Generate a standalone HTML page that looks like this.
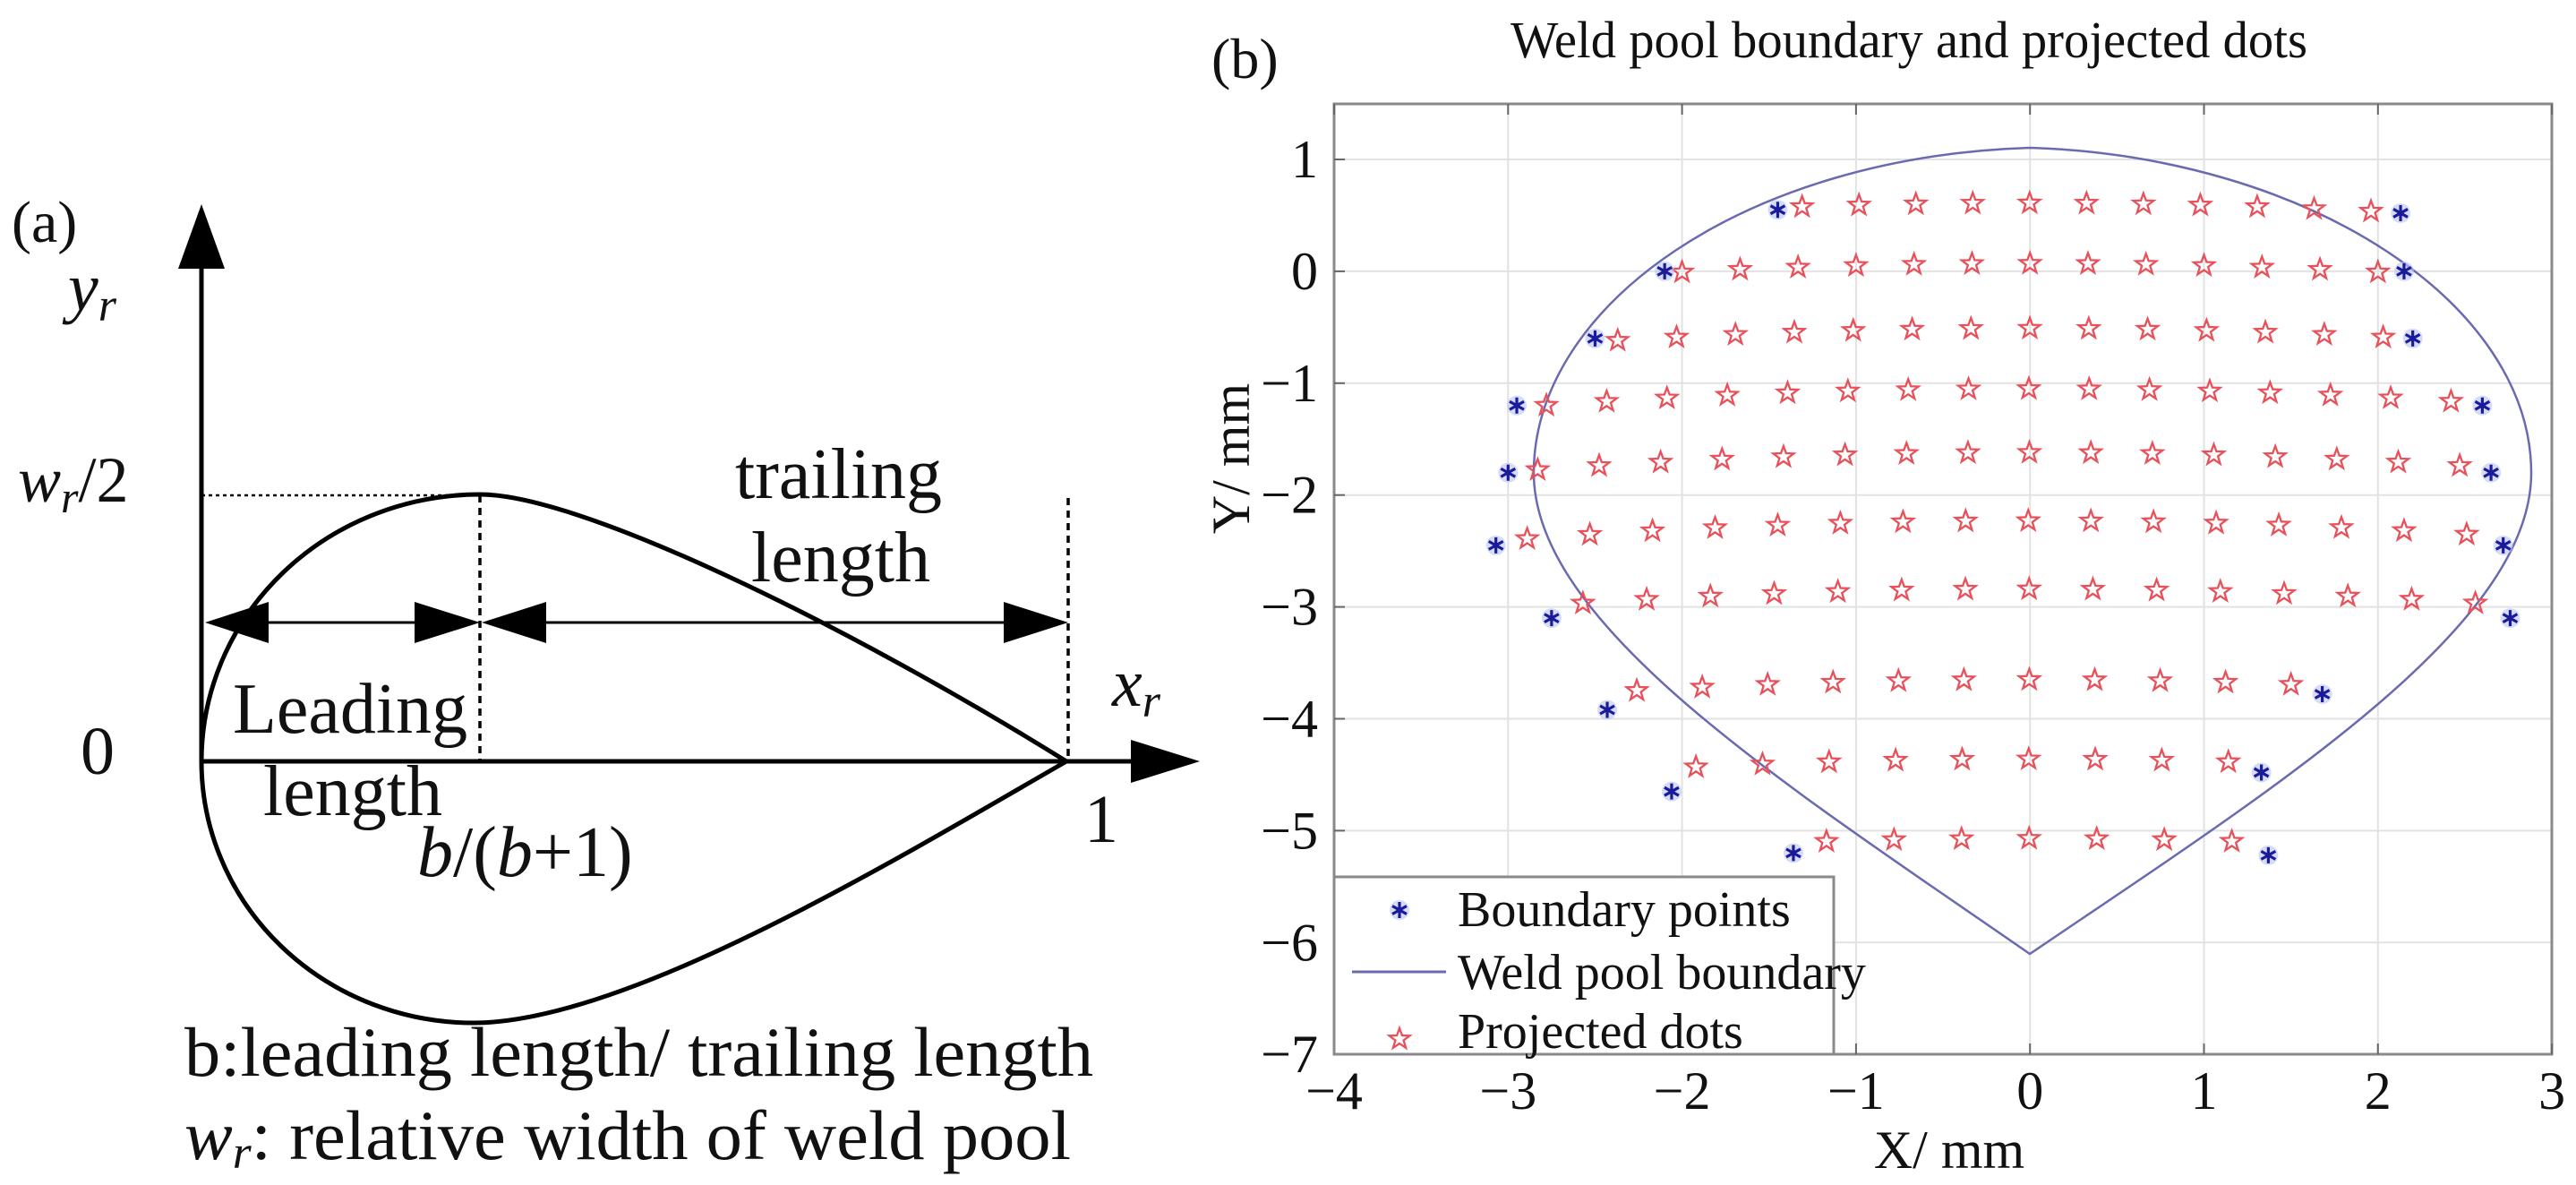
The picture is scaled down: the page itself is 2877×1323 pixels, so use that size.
<!DOCTYPE html>
<html><head><meta charset="utf-8"><style>
html,body{margin:0;padding:0;background:#fff;}
svg{display:block;font-family:"Liberation Serif","Times New Roman",serif;}
svg text{font-family:"Liberation Serif","Times New Roman",serif;fill:#111;}
</style></head><body>
<svg id="s" width="2877" height="1323" viewBox="0 0 2877 1323" xmlns="http://www.w3.org/2000/svg" font-family="Liberation Serif, serif">
<defs>
<symbol id="st" viewBox="-14 -14 28 28" overflow="visible">
<polygon points="0,-12 2.9,-4 11.5,-3.7 4.6,1.5 7.1,9.8 0,5 -7.1,9.8 -4.6,1.5 -11.5,-3.7 -2.9,-4" fill="none" stroke="#e8505a" stroke-width="2.3"/>
</symbol>
<symbol id="bp" viewBox="-14 -14 28 28" overflow="visible">
<circle r="11" fill="#b8c4f0" opacity="0.6"/>
<path d="M0,-9V9M-8,-4.5L8,4.5M-8,4.5L8,-4.5" stroke="#1a1a9a" stroke-width="3.2"/>
</symbol>
</defs>
<!-- Panel (a) -->
<text x="13" y="270" font-size="66">(a)</text>
<text x="76" y="346" font-size="76" font-style="italic">y<tspan font-size="52" dy="12">r</tspan></text>
<text x="20" y="560" font-size="72" font-style="italic">w<tspan font-size="50" dy="12">r</tspan><tspan dy="-12" font-style="normal">/2</tspan></text>
<text x="90" y="864" font-size="76">0</text>
<text x="1242" y="788" font-size="76" font-style="italic">x<tspan font-size="52" dy="12">r</tspan></text>
<text x="1211" y="940" font-size="76">1</text>
<line x1="225" y1="850" x2="225" y2="290" stroke="#000" stroke-width="5"/>
<polygon points="225,228 199,300 251,300" fill="#000"/>
<line x1="225" y1="850" x2="1270" y2="850" stroke="#000" stroke-width="5"/>
<polygon points="1340,850 1263,826 1263,874" fill="#000"/>
<line x1="225" y1="553" x2="536" y2="553" stroke="#000" stroke-width="2.5" stroke-dasharray="4,4"/>
<line x1="536" y1="553" x2="536" y2="850" stroke="#000" stroke-width="3.5" stroke-dasharray="8,6"/>
<line x1="1193" y1="556" x2="1193" y2="850" stroke="#000" stroke-width="3.5" stroke-dasharray="8,6"/>
<path d="M225,850 A311,298 0 0 1 536,552 C650,552 950,700 1191,850 C1000,960 700,1142 529,1142 A304,292 0 0 1 225,850" fill="none" stroke="#000" stroke-width="5"/>
<line x1="290" y1="695" x2="470" y2="695" stroke="#000" stroke-width="3"/>
<polygon points="229,695 300,672 300,718" fill="#000"/>
<polygon points="536,695 463,672 463,718" fill="#000"/>
<line x1="600" y1="695" x2="1125" y2="695" stroke="#000" stroke-width="3"/>
<polygon points="538,695 610,672 610,718" fill="#000"/>
<polygon points="1193,695 1121,672 1121,718" fill="#000"/>
<text x="821" y="556" font-size="80">trailing</text>
<text x="839" y="649" font-size="80">length</text>
<text x="260" y="818" font-size="80">Leading</text>
<text x="294" y="910" font-size="80">length</text>
<text x="466" y="978" font-size="80" font-style="italic">b<tspan font-style="normal">/(</tspan>b<tspan font-style="normal">+1)</tspan></text>
<text x="206" y="1201" font-size="78" textLength="1015" lengthAdjust="spacingAndGlyphs">b:leading length/ trailing length</text>
<text x="206" y="1294" font-size="78" textLength="990" lengthAdjust="spacingAndGlyphs"><tspan font-style="italic">w</tspan><tspan font-style="italic" font-size="52" dy="10">r</tspan><tspan dy="-10">: relative width of weld pool</tspan></text>

<!-- Panel (b) -->
<text x="1353" y="87" font-size="64">(b)</text>
<text x="1687" y="64" font-size="58" textLength="890" lengthAdjust="spacingAndGlyphs">Weld pool boundary and projected dots</text>
<g id="grid" stroke="#e2e2e2" stroke-width="2"></g>
<rect x="1490" y="116" width="1360" height="1061" fill="none" stroke="#8a8a8a" stroke-width="3"/>
<g id="ticks" font-size="60"></g>
<path d="M2267,165 C1950,175 1713,340 1713,528 C1713,700 2000,880 2267,1065 C2540,880 2827,700 2827,528 C2827,340 2580,175 2267,165" fill="none" stroke="#6a6ab0" stroke-width="2.5"/>
<g id="pts"></g>
<rect x="1490" y="979" width="558" height="198" fill="#fff" stroke="#8a8a8a" stroke-width="3"/>
<use href="#bp" x="1549" y="1002" width="28" height="28"/>
<line x1="1510" y1="1085" x2="1615" y2="1085" stroke="#6a6ab0" stroke-width="3"/>
<use href="#st" x="1549" y="1146" width="28" height="28"/>
<text x="1628" y="1034" font-size="56">Boundary points</text>
<text x="1628" y="1104" font-size="56">Weld pool boundary</text>
<text x="1628" y="1170" font-size="56">Projected dots</text>
<text x="2177" y="1304" font-size="60" text-anchor="middle">X/ mm</text>
<text transform="translate(1395,512) rotate(-90)" font-size="60" text-anchor="middle">Y/ mm</text>
</svg>
<script>
(function(){
var NS="http://www.w3.org/2000/svg";
function X(x){return 1490+(x+4)*194.3;}
function Y(y){return 178+(1-y)*124.9;}
var g=document.getElementById('grid'),t=document.getElementById('ticks'),p=document.getElementById('pts');
function el(tag,a,par){var e=document.createElementNS(NS,tag);for(var k in a)e.setAttribute(k,a[k]);par.appendChild(e);return e;}
for(var x=-3;x<=2;x++){el('line',{x1:X(x),y1:116,x2:X(x),y2:1177},g);}
for(var y=-6;y<=1;y++){el('line',{x1:1490,y1:Y(y),x2:2850,y2:Y(y)},g);}
for(var x=-4;x<=3;x++){var s=(x<0?'\u2212':'')+Math.abs(x);var e=el('text',{x:X(x),y:1238,'text-anchor':'middle'},t);e.textContent=s;
 el('line',{x1:X(x),y1:1177,x2:X(x),y2:1165,stroke:'#666','stroke-width':2},t);el('line',{x1:X(x),y1:116,x2:X(x),y2:128,stroke:'#666','stroke-width':2},t);}
for(var y=-7;y<=1;y++){var s=(y<0?'\u2212':'')+Math.abs(y);var e=el('text',{x:1472,y:Y(y)+20,'text-anchor':'end'},t);e.textContent=s;
 el('line',{x1:1490,y1:Y(y),x2:1502,y2:Y(y),stroke:'#666','stroke-width':2},t);}
var rows=[[0.61,-1.31,1.96,11],[0.07,-2.0,2.0,13],[-0.51,-2.37,2.03,14],[-1.05,-2.78,2.42,16],[-1.62,-2.83,2.47,16],[-2.23,-2.89,2.51,16],[-2.84,-2.57,2.56,15],[-3.65,-2.26,1.5,11],[-4.36,-1.92,1.14,9],[-5.07,-1.17,1.16,7]];
rows.forEach(function(r){for(var i=0;i<r[3];i++){var x=r[1]+(r[2]-r[1])*i/(r[3]-1);var y=r[0]-0.12*Math.pow(x/2.5,2);
 el('use',{href:'#st',x:X(x)-14,y:Y(y)-14,width:28,height:28},p);}});
var b=[[-1.45,0.55],[2.13,0.52],[-2.1,0.0],[2.15,0.0],[-2.5,-0.6],[2.2,-0.6],[-2.95,-1.2],[2.6,-1.2],[-3.0,-1.8],[2.65,-1.8],[-3.07,-2.45],[2.72,-2.45],[-2.75,-3.1],[2.76,-3.1],[-2.43,-3.92],[1.68,-3.78],[-2.06,-4.65],[1.33,-4.48],[-1.36,-5.2],[1.37,-5.22]];
b.forEach(function(q){el('use',{href:'#bp',x:X(q[0])-14,y:Y(q[1])-14,width:28,height:28},p);});
})();
</script>
</body></html>
